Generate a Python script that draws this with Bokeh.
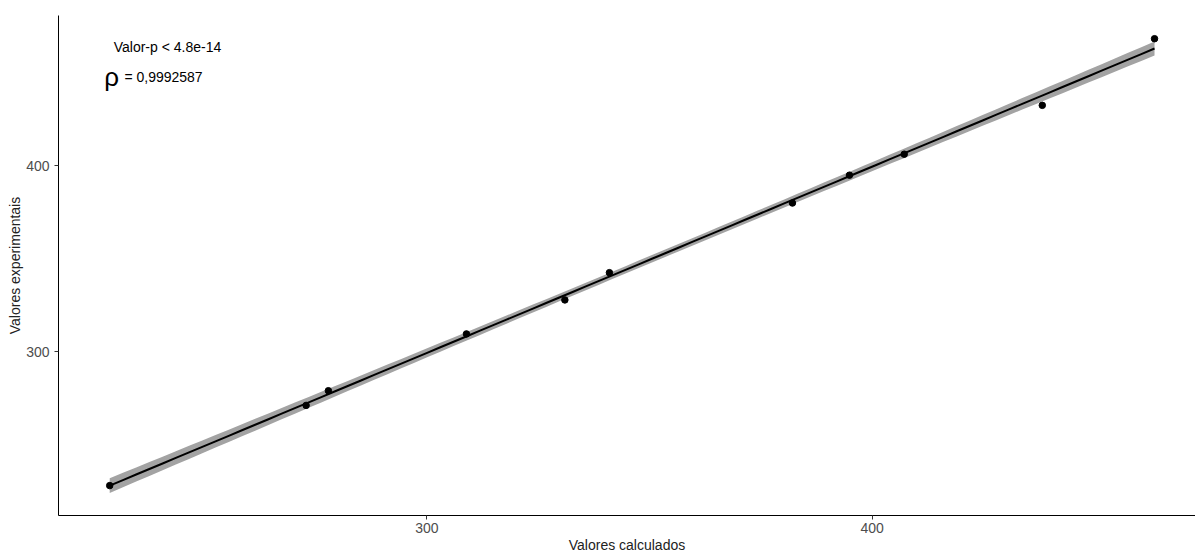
import numpy as np
from bokeh.plotting import figure
from bokeh.models import FixedTicker, ColumnDataSource
from bokeh.core.properties import value
from bokeh.embed import file_html
from bokeh.resources import INLINE

# Data
calculados = [228.8, 272.9, 277.9, 308.9, 331.0, 341.0, 382.1, 394.9, 407.2, 438.2, 463.4]
experimentais = [227.8, 271.0, 278.9, 309.5, 327.8, 342.5, 380.0, 395.0, 406.3, 432.6, 468.5]
tick_values = [300, 400]
p_label = "Valor-p < 4.8e-14"
rho_label = "= 0,9992587"

x = np.array(calculados)
y = np.array(experimentais)
n = len(x)
slope, intercept = np.polyfit(x, y, 1)
resid = y - (slope * x + intercept)
s = np.sqrt(np.sum(resid ** 2) / (n - 2))
xm = x.mean()
sxx = np.sum((x - xm) ** 2)
t975 = 2.262  # t quantile, df = 9
xs = np.linspace(x.min(), x.max(), 80)
ys = slope * xs + intercept
se = s * np.sqrt(1.0 / n + (xs - xm) ** 2 / sxx)
lower = ys - t975 * se
upper = ys + t975 * se

p = figure(width=1195, height=555, output_backend="svg", toolbar_location=None,
           x_range=(217.3, 472.6), y_range=(211.7, 481.0),
           min_border_left=58, min_border_right=0, min_border_top=15, min_border_bottom=39)
p.outline_line_color = None
p.grid.visible = False
p.background_fill_color = "white"
p.border_fill_color = "white"

band = ColumnDataSource(dict(x=xs, lower=lower, upper=upper))
p.varea(x="x", y1="lower", y2="upper", source=band, fill_color="#a3a3a3", fill_alpha=1.0)
p.line(xs, ys, line_color="black", line_width=2)
p.scatter(calculados, experimentais, size=6.5, fill_color="black", line_color="black")

font = "Liberation Sans"
for ax in (p.xaxis[0], p.yaxis[0]):
    ax.ticker = FixedTicker(ticks=tick_values)
    ax.minor_tick_line_color = None
    ax.axis_line_color = "black"
    ax.axis_line_width = 1
    ax.major_tick_line_color = "#333333"
    ax.major_tick_in = 0
    ax.major_tick_out = 4
    ax.major_label_text_font = font
    ax.major_label_text_font_size = "14px"
    ax.major_label_text_color = "#4d4d4d"
    ax.axis_label_text_font = font
    ax.axis_label_text_font_size = "14px"
    ax.axis_label_text_font_style = "normal"
    ax.axis_label_text_color = "#222222"

p.xaxis.major_label_standoff = 3
p.xaxis.axis_label_standoff = 1
p.yaxis.major_label_standoff = 5
p.yaxis.axis_label_standoff = 0

p.xaxis.axis_label = "Valores calculados"
p.yaxis.axis_label = "Valores experimentais"

p.text(x=[229.7], y=[464.1], text=[p_label], text_font=value(font), text_font_size="14px",
       text_color="black", text_baseline="alphabetic", text_align="left")
p.text(x=[227.6], y=[447.8], text=["ρ"], text_font=value(font), text_font_size="26px",
       text_color="black", text_baseline="alphabetic", text_align="left")
p.text(x=[232.1], y=[448.0], text=[rho_label], text_font=value(font), text_font_size="14px",
       text_color="black", text_baseline="alphabetic", text_align="left")

open("out.html", "w").write(file_html(p, INLINE))
